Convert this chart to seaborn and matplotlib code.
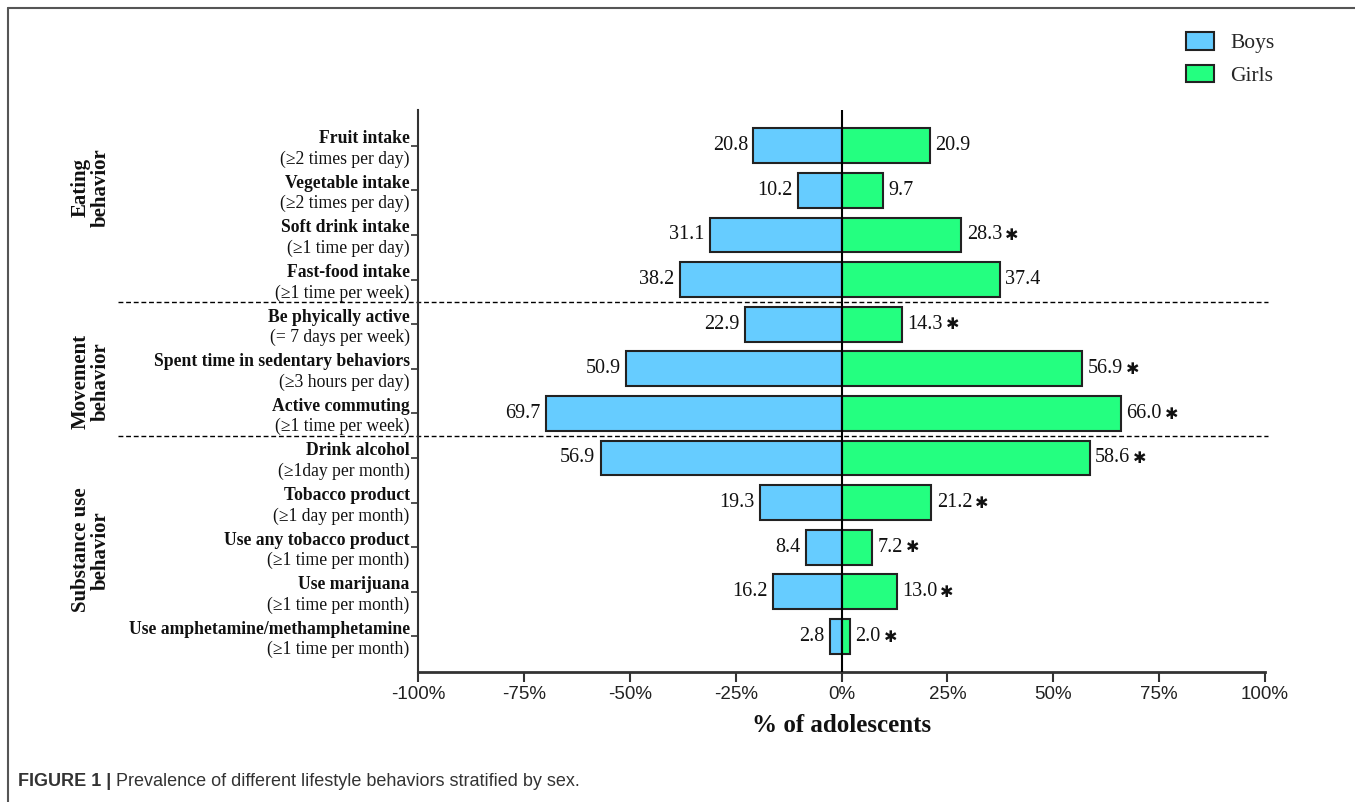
import matplotlib
matplotlib.use("Agg")
import matplotlib.pyplot as plt
from matplotlib.lines import Line2D
from matplotlib.patches import Patch
from matplotlib.ticker import FuncFormatter
import numpy as np
import pandas as pd
import seaborn as sns

# ---- data -------------------------------------------------------------
behaviors = [
    "Fruit intake", "Vegetable intake", "Soft drink intake", "Fast-food intake",
    "Be phyically active", "Spent time in sedentary behaviors", "Active commuting",
    "Drink alcohol", "Tobacco product", "Use any tobacco product",
    "Use marijuana", "Use amphetamine/methamphetamine",
]
criteria = [
    "(\u22652 times per day)", "(\u22652 times per day)", "(\u22651 time per day)",
    "(\u22651 time per week)", "(= 7 days per week)", "(\u22653 hours per day)",
    "(\u22651 time per week)", "(\u22651day per month)", "(\u22651 day per month)",
    "(\u22651 time per month)", "(\u22651 time per month)", "(\u22651 time per month)",
]
boys = [20.8, 10.2, 31.1, 38.2, 22.9, 50.9, 69.7, 56.9, 19.3, 8.4, 16.2, 2.8]
girls = [20.9, 9.7, 28.3, 37.4, 14.3, 56.9, 66.0, 58.6, 21.2, 7.2, 13.0, 2.0]
girls_sig = [False, False, True, False, True, True, True, True, True, True, True, True]
groups = ["Eating\nbehavior", "Movement\nbehavior", "Substance use\nbehavior"]
group_breaks = [3.5, 6.5]
xticks = [-100, -75, -50, -25, 0, 25, 50, 75, 100]

BOYS_C = "#66CCFF"
GIRLS_C = "#24FF80"
SERIF = ["Liberation Serif", "DejaVu Serif"]
SANS = ["Liberation Sans", "DejaVu Sans"]

df = pd.DataFrame({
    "behavior": behaviors * 2,
    "sex": ["Boys"] * len(boys) + ["Girls"] * len(girls),
    "value": [-v for v in boys] + list(girls),
})

sns.set_theme(style="white")
plt.rcParams["font.family"] = SERIF

fig = plt.figure(figsize=(13.55, 8.02), dpi=100)
ax = fig.add_axes([0.3085, 0.1621, 0.6251, 0.7007])

sns.barplot(data=df, x="value", y="behavior", hue="sex", dodge=False,
            palette={"Boys": BOYS_C, "Girls": GIRLS_C}, order=behaviors,
            saturation=1, width=0.78, edgecolor="#222222", linewidth=1.5,
            legend=False, ax=ax)

ax.set_xlim(-100, 100)
ax.set_ylim(11.8, -0.8)
ax.axvline(0, color="black", lw=1.5, zorder=5)

# group separators, running out into the label column
ytr = ax.get_yaxis_transform()
for yb in group_breaks:
    ax.add_line(Line2D([-0.354, 1.004], [yb, yb], transform=ytr, color="black",
                       lw=1.0, ls=(0, (3.5, 2)), clip_on=False))

# value labels
for i, (b, g, s) in enumerate(zip(boys, girls, girls_sig)):
    ax.text(-b - 1.3, i, f"{b:.1f}", ha="right", va="center",
            fontsize=14.5, family=SERIF, color="#111111")
    t = ax.text(g + 1.3, i, f"{g:.1f}", ha="left", va="center",
                fontsize=14.5, family=SERIF, color="#111111")
    if s:
        ax.annotate("\u2731", xy=(1, 0.5), xycoords=t, xytext=(2, -0.5),
                    textcoords="offset points", ha="left", va="center",
                    fontsize=11.5, family=["DejaVu Sans"], color="#111111")

# two-line category labels (bold name, plain criterion)
ax.set_yticks(range(len(behaviors)))
ax.set_yticklabels([])
for i, (name, crit) in enumerate(zip(behaviors, criteria)):
    ax.annotate(name, xy=(0, i), xycoords=ytr, xytext=(-6, -1.0),
                textcoords="offset points", ha="right", va="bottom",
                fontsize=12.7, fontweight="bold", family=SERIF, color="#111111")
    ax.annotate(crit, xy=(0, i), xycoords=ytr, xytext=(-6, -3.5),
                textcoords="offset points", ha="right", va="top",
                fontsize=12.7, family=SERIF, color="#111111")

# group titles
for lab, yc in zip(groups, [0.766, 0.524, 0.314]):
    fig.text(0.067, yc, lab, rotation=90, ha="center", va="center",
             multialignment="center", fontsize=15, fontweight="bold",
             family=SERIF, linespacing=1.0, color="#111111")

# axes styling
ax.set_xticks(xticks)
ax.xaxis.set_major_formatter(FuncFormatter(lambda v, p: f"{v:.0f}%"))
for lbl in ax.get_xticklabels():
    lbl.set_family(SANS)
ax.tick_params(axis="x", direction="out", length=7, width=1.5, color="#333333",
               labelsize=13.5, labelcolor="#222222", pad=3, bottom=True)
ax.tick_params(axis="y", direction="out", length=5, width=1.2, color="#333333",
               left=True)
ax.set_xlabel("% of adolescents", fontsize=18, fontweight="bold", family=SERIF,
              labelpad=8, color="#111111")
ax.set_ylabel("")
for side in ("top", "right"):
    ax.spines[side].set_visible(False)
ax.spines["left"].set_color("#333333")
ax.spines["left"].set_linewidth(1.5)
ax.spines["bottom"].set_color("#333333")
ax.spines["bottom"].set_linewidth(2.0)

# legend
handles = [Patch(facecolor=BOYS_C, edgecolor="#222222", lw=1.5, label="Boys"),
           Patch(facecolor=GIRLS_C, edgecolor="#222222", lw=1.5, label="Girls")]
fig.legend(handles=handles, loc="upper left", bbox_to_anchor=(1167 / 1355, 1 - 13 / 802),
           frameon=False, prop={"family": SERIF, "size": 15.5}, handlelength=1.3,
           handleheight=0.85, handletextpad=0.75, labelspacing=0.55)

# caption
cap = fig.text(18 / 1355, 1 - 782 / 802, "FIGURE 1 |", ha="left", va="center",
               fontsize=13, fontweight="bold", family=SANS, color="#333333")
ax.annotate(" Prevalence of different lifestyle behaviors stratified by sex.",
            xy=(1, 0.5), xycoords=cap, ha="left", va="center",
            fontsize=13, family=SANS, color="#333333", annotation_clip=False)

# panel frame (top and left edges)
fig.add_artist(Line2D([8 / 1355, 1.0], [1 - 8 / 802, 1 - 8 / 802],
                      transform=fig.transFigure, color="#555555", lw=1.5))
fig.add_artist(Line2D([8 / 1355, 8 / 1355], [0.0, 1 - 8 / 802],
                      transform=fig.transFigure, color="#555555", lw=1.5))

fig.savefig("out.png", dpi=100)
